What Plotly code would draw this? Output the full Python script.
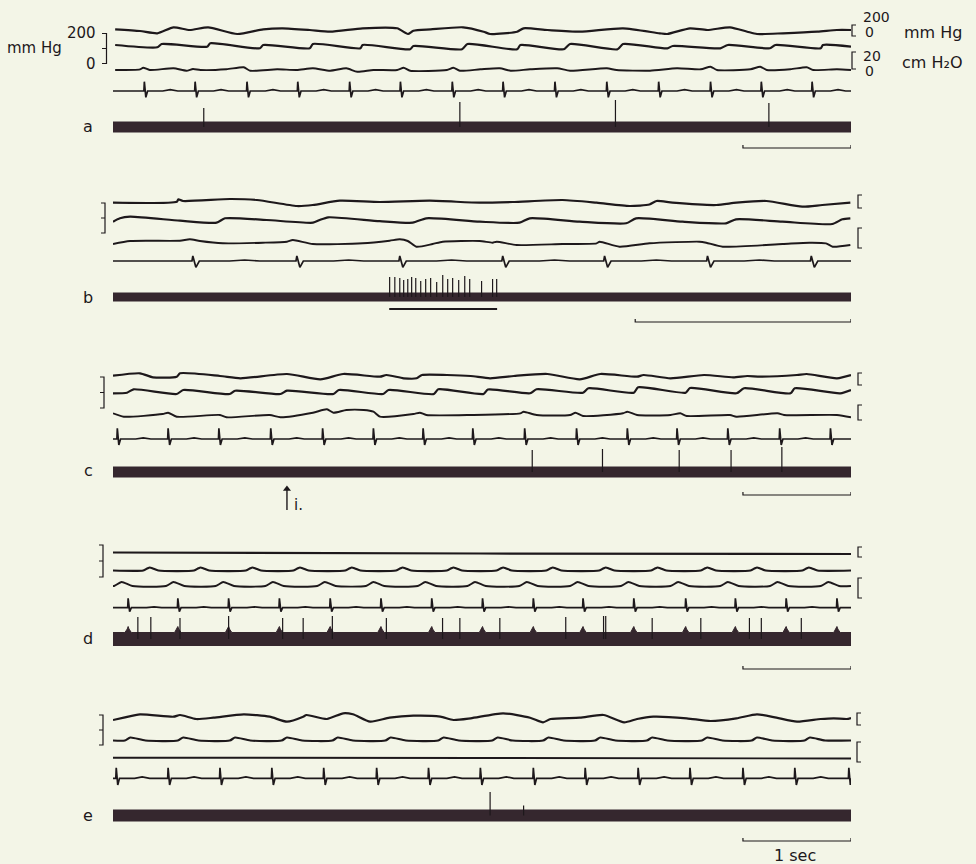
import plotly.graph_objects as go

W, H = 976, 864
T_FULL = 6.83   # seconds shown in panels a, c, d, e
T_B = 3.42      # seconds shown in panel b (double paper speed)

# ---------------- panel a ----------------
a_bp1_t = [0.02, 0.25, 0.41, 0.56, 0.71, 0.88, 1.15, 1.39, 1.57, 1.82, 2.01, 2.31, 2.63, 2.73, 2.78, 2.94,
           3.24, 3.43, 3.49, 3.74, 3.80, 4.02, 4.32, 4.72, 5.06, 5.13, 5.34, 5.50, 5.71, 5.87, 5.96, 6.20,
           6.52, 6.70, 6.83]
a_bp1_v = [0.7, -1.0, -3.3, 2.7, 0.0, 2.7, -4.0, 0.7, 1.7, 0.0, -1.7, 1.7, 1.7, -4.0, -0.7, 0.7,
           2.7, -1.7, -4.0, -1.7, 1.7, 0.0, -1.7, 1.7, -3.3, -4.0, 1.7, 0.0, 2.7, -1.7, -4.0, -3.3,
           -1.7, 0.0, 0.0]
a_bp2_t = [0.02, 0.41, 0.45, 0.87, 0.90, 1.36, 1.39, 1.82, 1.85, 2.29, 2.31, 2.75, 2.78, 3.23, 3.28,
           3.74, 3.77, 4.17, 4.23, 4.67, 4.72, 5.13, 5.18, 5.62, 5.69, 6.08, 6.13, 6.55, 6.57, 6.83]
a_bp2_v = [1.5, -0.8, 2.5, -0.2, 3.2, -1.8, 1.5, -1.8, 2.5, -1.8, 1.5, -2.8, 0.5, -2.8, 2.5,
           -2.8, 1.5, -2.8, 2.5, -2.8, 2.5, -1.8, 0.5, -1.8, 1.5, -1.8, 1.5, -1.8, 1.5, -0.2]
a_resp_t = [0.02, 0.25, 0.28, 0.34, 0.56, 0.68, 0.74, 0.81, 1.05, 1.21, 1.27, 1.52, 1.70, 1.85, 2.01,
            2.16, 2.26, 2.41, 2.63, 2.69, 2.75, 3.09, 3.15, 3.21, 3.40, 3.58, 3.68, 3.86, 4.11, 4.23,
            4.57, 4.66, 4.97, 5.22, 5.44, 5.53, 5.59, 5.90, 5.99, 6.05, 6.27, 6.42, 6.48, 6.70, 6.83]
a_resp_v = [0.0, 0.7, 2.3, 0.0, 1.7, -0.7, 1.0, 0.0, 0.7, 2.7, -0.7, 0.7, 0.0, 1.7, -0.7,
            1.7, -1.7, 0.0, 0.0, 2.3, -0.7, 0.0, 2.3, -0.7, 0.7, 1.7, -0.7, 0.7, 1.7, -0.7,
            1.7, 0.0, -0.7, 1.7, 0.7, 3.3, 0.0, 0.7, 3.3, 0.0, 0.7, 2.7, 0.0, 0.7, 0.0]
a_ecg_beats = [0.29, 0.76, 1.24, 1.71, 2.19, 2.66, 3.14, 3.61, 4.09, 4.57, 5.05, 5.53, 6.00, 6.47]
a_ecg_tmpl_v = [0, 0, 9.3, -6.3, 0, 0, 1.3, 0]
a_spike_t = [0.84, 3.21, 4.65, 6.07]
a_spike_h = [19, 25, 27, 24]

# ---------------- panel b (fast paper) ----------------
b_bp1_t = [0.0, 0.296, 0.303, 0.324, 0.542, 0.667, 0.852, 0.926, 1.051, 1.236, 1.468, 1.699, 1.852,
           2.083, 2.241, 2.394, 2.486, 2.519, 2.593, 2.796, 2.889, 3.028, 3.194, 3.287, 3.417]
b_bp1_v = [-0.7, 0.3, 2.7, 1.0, 3.0, 2.0, -4.0, -3.0, 1.3, 0.0, 1.3, -0.7, 0.0,
           2.0, -0.7, -4.0, -2.5, 1.0, -0.7, -3.0, -0.7, 1.0, -4.7, -3.0, -0.7]
b_bp2_t = [0.0, 0.032, 0.079, 0.310, 0.480, 0.519, 0.712, 0.927, 0.958, 0.997, 1.236, 1.389, 1.452,
           1.699, 1.884, 1.931, 2.162, 2.378, 2.424, 2.639, 2.841, 2.887, 3.102, 3.333, 3.380, 3.417]
b_bp2_v = [-0.2, 3.2, 4.8, 0.8, -1.2, 3.2, 1.5, -1.2, 1.5, 4.2, 0.3, -1.2, 3.2,
           -0.2, -1.2, 3.2, -0.2, -1.8, 3.2, -0.2, -1.8, 2.2, -0.2, -2.5, 2.2, 3.2]
b_resp_t = [0.0, 0.079, 0.310, 0.356, 0.403, 0.509, 0.694, 0.806, 0.833, 0.926, 1.157, 1.282, 1.329,
            1.366, 1.406, 1.481, 1.528, 1.699, 1.759, 1.778, 1.870, 2.083, 2.241, 2.255, 2.347, 2.486,
            2.718, 2.749, 2.826, 3.103, 3.227, 3.304, 3.335, 3.417]
b_resp_v = [-1.0, 2.0, 2.3, 3.7, 2.0, -0.3, 0.3, 1.3, 3.0, -1.0, -0.3, 2.3, 3.7,
            2.0, -3.7, -1.0, 1.3, 2.0, 0.3, 1.3, -2.0, -1.0, -0.3, 1.3, -3.7, -0.3,
            1.3, 0.3, -3.7, -1.0, 0.3, -0.3, -3.7, -2.0]
b_ecg_beats = [0.370, 0.852, 1.329, 1.806, 2.278, 2.755, 3.236]
b_ecg_tmpl_v = [0, 0, 5.0, -6.3, 0, 0, 1.0, 0]
b_spike_t = [1.282, 1.306, 1.329, 1.347, 1.366, 1.384, 1.403, 1.426, 1.449, 1.472,
             1.500, 1.528, 1.551, 1.574, 1.602, 1.630, 1.653, 1.708, 1.759, 1.778]
b_spike_h = [20, 20, 19, 17, 18, 20, 19, 16, 18, 19, 15, 22, 18, 19, 17, 21, 18, 16, 18, 18]
b_stim = [1.28, 1.78]

# ---------------- panel c ----------------
c_bp1_t = [0.0, 0.25, 0.37, 0.59, 0.62, 0.99, 1.18, 1.61, 1.92, 2.13, 2.47, 2.53, 2.69, 2.81, 2.86,
           3.09, 3.31, 3.49, 3.71, 4.02, 4.32, 4.51, 4.85, 4.91, 5.16, 5.47, 5.74, 5.87, 5.99, 6.33,
           6.42, 6.70, 6.83]
c_bp1_v = [0.3, 2.7, -1.3, -0.7, 2.7, 0.0, -2.3, 2.0, -3.3, 2.0, -0.7, 1.0, -2.3, -2.3, 1.0,
           1.0, 0.0, -2.3, 0.0, 2.0, -3.3, 2.0, -0.7, 1.0, -2.3, 1.0, -1.3, 0.0, -0.7, 1.0,
           2.0, -2.3, 1.0]
c_bp2_t = [0.0, 0.13, 0.19, 0.59, 0.65, 1.08, 1.13, 1.55, 1.61, 2.04, 2.09, 2.50, 2.55, 2.97, 3.01,
           3.43, 3.47, 3.86, 3.92, 4.35, 4.40, 4.82, 4.86, 5.30, 5.34, 5.77, 5.84, 6.27, 6.31, 6.73, 6.83]
c_bp2_v = [-1.3, -0.7, 2.7, -2.0, 2.0, -2.0, 1.3, -2.0, 1.3, -2.0, 2.0, -2.0, 2.0, -2.0, 2.7,
           -2.0, 2.5, -1.3, 2.7, -0.7, 3.7, -0.7, 4.7, -0.7, 4.0, -1.3, 3.7, -1.3, 3.7, -1.3, 2.0]
c_resp_t = [0.0, 0.10, 0.46, 0.51, 0.59, 0.99, 1.05, 1.45, 1.55, 1.85, 1.98, 2.04, 2.16, 2.32, 2.41,
            2.47, 2.78, 2.84, 2.90, 3.31, 3.77, 3.80, 3.92, 4.23, 4.28, 4.35, 4.72, 4.76, 4.85, 5.16,
            5.25, 5.31, 5.71, 5.77, 6.15, 6.21, 6.70, 6.83]
c_resp_v = [0.7, -2.7, 0.0, 1.3, -2.7, -1.0, -3.3, -1.0, -3.3, 1.3, 4.7, 1.3, 4.0, 4.0, 2.3,
            -2.7, 0.0, 1.3, -1.0, -1.0, 0.7, 2.3, -1.0, -1.0, 1.3, -2.0, 0.7, 2.3, -1.0, -1.0,
            0.7, -2.0, -1.0, -2.7, 0.7, -1.0, -1.0, -3.3]
c_ecg_beats = [0.04, 0.51, 0.98, 1.46, 1.94, 2.41, 2.87, 3.33, 3.81, 4.29, 4.76, 5.22, 5.69, 6.17, 6.64]
c_ecg_tmpl_v = [0, 0, 10.7, -6.0, 0, 0, 1.2, 0]
c_spike_t = [3.88, 4.53, 5.24, 5.72, 6.19]
c_spike_h = [22, 23, 22, 22, 25]
c_injection_t = 1.61

# ---------------- panel d ----------------
d_bp1_t = [0.0, 3.40, 6.83]
d_bp1_v = [0.0, -1.0, -1.5]
d_bp2_events = [0.34, 0.81, 1.29, 1.73, 2.21, 2.68, 3.15, 3.61, 4.07, 4.56, 5.04, 5.50, 5.96, 6.44]
d_bp2_tmpl_t = [-0.06, -0.02, 0.0, 0.03, 0.08]
d_bp2_tmpl_v = [0.0, 2.2, 3.0, 2.0, 0.0]
d_resp_events = [0.08, 0.56, 1.02, 1.48, 1.96, 2.41, 2.89, 3.35, 3.83, 4.30, 4.77, 5.23, 5.69, 6.15, 6.62]
d_resp_tmpl_t = [-0.07, 0.0, 0.10]
d_resp_tmpl_v = [0.0, 4.0, 0.0]
d_ecg_beats = [0.14, 0.60, 1.07, 1.54, 2.01, 2.48, 2.95, 3.42, 3.89, 4.35, 4.82, 5.30, 5.76, 6.23, 6.70]
d_ecg_tmpl_v = [0, 0, 9.4, -4.0, 0, 0, 0.8, 0]
d_spike_t = [0.23, 0.35, 0.62, 1.07, 1.57, 1.76, 2.03, 2.53, 3.05, 3.21, 3.58, 4.19, 4.54, 4.56,
             4.99, 5.44, 5.89, 6.00, 6.37]
d_spike_h = [22, 22, 21, 23, 21, 21, 23, 21, 21, 21, 21, 22, 23, 23, 21, 21, 21, 21, 21]
d_blob_tmpl_t = [-0.03, -0.008, 0.0, 0.008, 0.03]
d_blob_tmpl_v = [0.0, 3.5, 6.0, 3.5, 0.0]

# ---------------- panel e ----------------
e_bp1_t = [0.0, 0.10, 0.25, 0.56, 0.62, 0.77, 0.93, 1.21, 1.45, 1.61, 1.76, 1.79, 1.98, 2.13, 2.22,
           2.38, 2.56, 2.78, 3.03, 3.15, 3.31, 3.61, 3.86, 3.98, 4.05, 4.32, 4.54, 4.73, 4.85, 5.00,
           5.31, 5.53, 5.77, 5.96, 6.14, 6.33, 6.55, 6.67, 6.79, 6.83]
e_bp1_v = [-2.0, 0.3, 3.7, 1.3, 3.0, -1.0, 0.3, 3.7, 1.3, -3.7, 1.3, 3.0, -1.0, 4.7, 3.7,
           -3.7, 0.3, 2.3, 1.3, -2.0, -0.3, 4.7, 0.3, -4.3, -1.0, 0.3, 3.0, -4.3, -1.0, 1.3,
           -0.3, -3.0, -0.3, 3.7, 0.3, -3.7, -1.0, -0.3, -1.0, 0.0]
e_bp2_events = [0.16, 0.65, 1.13, 1.61, 2.08, 2.57, 3.06, 3.56, 4.03, 4.51, 4.99, 5.50, 5.96, 6.45]
e_bp2_tmpl_t = [-0.05, 0.0, 0.14]
e_bp2_tmpl_v = [0.0, 3.0, 0.0]
e_resp_t = [0.0, 3.40, 6.83]
e_resp_v = [0.3, 0.0, -0.5]
e_ecg_beats = [0.03, 0.51, 0.99, 1.47, 1.95, 2.44, 2.92, 3.40, 3.89, 4.37, 4.86, 5.34, 5.83, 6.31, 6.81]
e_ecg_tmpl_v = [0, 0, 10.6, -6.7, 0, 0, 1.5, 0]
e_spike_t = [3.49, 3.80]
e_spike_h = [23.5, 10]

ecg_tmpl_t = [-0.03, -0.004, 0.0, 0.014, 0.03, 0.17, 0.24, 0.31]
labels = ["a", "b", "c", "d", "e"]

# ---------------- layout (pixel lanes) ----------------
INK = "#1d181b"
BAND = "#35272e"
BG = "#f3f5e7"
FONT = "DejaVu Sans, Verdana, sans-serif"

lanes = {
    "a": dict(bp1=30, bp2=46.5, resp=70, ecg=91, nerve=127, band=10, sb=148, lab=126),
    "b": dict(bp1=202, bp2=221.5, resp=243, ecg=261, nerve=297, band=8, sb=322, lab=297),
    "c": dict(bp1=376, bp2=392, resp=414, ecg=439, nerve=472, band=10, sb=495, lab=471),
    "d": dict(bp1=552.5, bp2=570.5, resp=586, ecg=607.7, nerve=639, band=13, sb=669, lab=638),
    "e": dict(bp1=718, bp2=740.5, resp=758, ecg=778.3, nerve=815.5, band=11, sb=841, lab=815),
}
xaxis_of = {"a": "x", "b": "x2", "c": "x3", "d": "x4", "e": "x5"}
tend_of = {"a": T_FULL, "b": T_B, "c": T_FULL, "d": T_FULL, "e": T_FULL}


def compose(events, tt, tv, t_end):
    xs, ys = [0.0], [0.0]
    for ev in events:
        for a, b in zip(tt, tv):
            t = ev + a
            if 0 < t < t_end:
                xs.append(t)
                ys.append(b)
    xs.append(t_end)
    ys.append(0.0)
    return xs, ys


fig = go.Figure()


def add_line(p, xs, vs, lane, width=2.0, shape="spline", color=INK):
    base = lanes[p][lane]
    fig.add_trace(go.Scatter(
        x=xs, y=[-base + v for v in vs], mode="lines", xaxis=xaxis_of[p], yaxis="y",
        line=dict(color=color, width=width, shape=shape, smoothing=0.6 if shape == "spline" else None),
        hoverinfo="skip", showlegend=False))


def add_band(p, xs, vs):
    base, half = lanes[p]["nerve"], lanes[p]["band"] / 2
    te = tend_of[p]
    px = list(xs) + [te, 0.0]
    py = [-base + half + v for v in vs] + [-base - half, -base - half]
    fig.add_trace(go.Scatter(x=px, y=py, mode="lines", fill="toself", fillcolor=BAND,
                             xaxis=xaxis_of[p], yaxis="y", line=dict(color=BAND, width=1),
                             hoverinfo="skip", showlegend=False))


def add_spikes(p, ts, hs, width=1.2):
    base = lanes[p]["nerve"]
    xs, ys = [], []
    for t, h in zip(ts, hs):
        xs += [t, t, None]
        ys += [-base, -base + h, None]
    fig.add_trace(go.Scatter(x=xs, y=ys, mode="lines", xaxis=xaxis_of[p], yaxis="y",
                             line=dict(color=INK, width=width), hoverinfo="skip", showlegend=False))


data = {
    "a": dict(bp1=(a_bp1_t, a_bp1_v), bp2=(a_bp2_t, a_bp2_v), resp=(a_resp_t, a_resp_v),
              ecg=(a_ecg_beats, a_ecg_tmpl_v), spikes=(a_spike_t, a_spike_h)),
    "b": dict(bp1=(b_bp1_t, b_bp1_v), bp2=(b_bp2_t, b_bp2_v), resp=(b_resp_t, b_resp_v),
              ecg=(b_ecg_beats, b_ecg_tmpl_v), spikes=(b_spike_t, b_spike_h)),
    "c": dict(bp1=(c_bp1_t, c_bp1_v), bp2=(c_bp2_t, c_bp2_v), resp=(c_resp_t, c_resp_v),
              ecg=(c_ecg_beats, c_ecg_tmpl_v), spikes=(c_spike_t, c_spike_h)),
    "d": dict(bp1=(d_bp1_t, d_bp1_v),
              bp2=compose(d_bp2_events, d_bp2_tmpl_t, d_bp2_tmpl_v, T_FULL),
              resp=compose(d_resp_events, d_resp_tmpl_t, d_resp_tmpl_v, T_FULL),
              ecg=(d_ecg_beats, d_ecg_tmpl_v), spikes=(d_spike_t, d_spike_h)),
    "e": dict(bp1=(e_bp1_t, e_bp1_v),
              bp2=compose(e_bp2_events, e_bp2_tmpl_t, e_bp2_tmpl_v, T_FULL),
              resp=(e_resp_t, e_resp_v),
              ecg=(e_ecg_beats, e_ecg_tmpl_v), spikes=(e_spike_t, e_spike_h)),
}

for p in labels:
    d = data[p]
    te = tend_of[p]
    # nerve activity band (d carries cardiac-locked blobs on its upper edge)
    if p == "d":
        add_band(p, *compose(d_ecg_beats, d_blob_tmpl_t, d_blob_tmpl_v, te))
    else:
        add_band(p, [0.0, te], [0.0, 0.0])
    add_spikes(p, *d["spikes"])
    add_line(p, *d["bp1"], "bp1", width=2.2)
    add_line(p, *d["bp2"], "bp2", width=2.2)
    add_line(p, *d["resp"], "resp", width=1.9)
    ex, ev = compose(d["ecg"][0], ecg_tmpl_t, d["ecg"][1], te)
    add_line(p, ex, ev, "ecg", width=1.7, shape="linear")
    # 1 s time-scale bar (ends at the end of the record)
    sb = lanes[p]["sb"]
    fig.add_trace(go.Scatter(x=[te - 1.0, te - 1.0, te, te], y=[-sb + 3, -sb, -sb, -sb + 3],
                             mode="lines", xaxis=xaxis_of[p], yaxis="y",
                             line=dict(color=INK, width=1.2), hoverinfo="skip", showlegend=False))

# stimulation period bar in b
fig.add_trace(go.Scatter(x=b_stim, y=[-309, -309], mode="lines", xaxis="x2", yaxis="y",
                         line=dict(color=INK, width=1.8), hoverinfo="skip", showlegend=False))
# injection arrow in c
fig.add_trace(go.Scatter(x=[c_injection_t, c_injection_t], y=[-510, -490], mode="lines",
                         xaxis="x3", yaxis="y", line=dict(color=INK, width=1.4),
                         hoverinfo="skip", showlegend=False))
fig.add_trace(go.Scatter(x=[c_injection_t], y=[-489], mode="markers", xaxis="x3", yaxis="y",
                         marker=dict(symbol="triangle-up", size=7, color=INK),
                         hoverinfo="skip", showlegend=False))


def X(px):
    return px / W


def Y(px):
    return 1 - px / H


shapes = []
# left calibration brackets (mirrored E)
left_br = {"a": (102, 106.5, 33.5, 63.5), "b": (101, 105, 203, 233), "c": (100, 104, 377, 408),
           "d": (99, 103, 545, 577), "e": (99, 103, 715, 745)}
for p, (x0, x1, y0, y1) in left_br.items():
    ym = (y0 + y1) / 2
    path = (f"M {X(x0)},{Y(y0)} L {X(x1)},{Y(y0)} L {X(x1)},{Y(y1)} L {X(x0)},{Y(y1)} "
            f"M {X(x0)},{Y(ym)} L {X(x1)},{Y(ym)}")
    shapes.append(dict(type="path", path=path, xref="paper", yref="paper",
                       line=dict(color=INK, width=1.2)))
# right calibration brackets "["
right_br = {"a": (852, [(25, 36), (52, 69)]), "b": (858, [(195, 208), (228, 248)]),
            "c": (858, [(373, 385), (405, 420)]), "d": (858, [(547, 557), (578, 598)]),
            "e": (857, [(713, 725), (742, 762)])}
for p, (xv, pairs) in right_br.items():
    for (y0, y1) in pairs:
        path = f"M {X(xv + 4)},{Y(y0)} L {X(xv)},{Y(y0)} L {X(xv)},{Y(y1)} L {X(xv + 4)},{Y(y1)}"
        shapes.append(dict(type="path", path=path, xref="paper", yref="paper",
                           line=dict(color=INK, width=1.2)))

ann = []


def txt(s, x, y, size=15, xanchor="left"):
    ann.append(dict(text=s, x=X(x), y=Y(y), xref="paper", yref="paper", showarrow=False,
                    xanchor=xanchor, yanchor="middle", font=dict(family=FONT, size=size, color=INK)))


txt("mm Hg", 64, 48, 15, "right")
txt("200", 98, 33, 15, "right")
txt("0", 98, 64, 15, "right")
txt("200", 861, 17, 14)
txt("0", 863, 32, 14)
txt("mm Hg", 902, 33, 16)
txt("20", 861, 56, 14)
txt("0", 863, 71, 14)
txt("cm H₂O", 900, 62, 16)
for p in labels:
    txt(p, 88, lanes[p]["lab"], 16, "center")
txt("1 sec", 795, 855, 16, "center")
txt("i.", 292, 505, 15)

dom = [113 / W, 851 / W]
axis_common = dict(domain=dom, visible=False, fixedrange=True, anchor="y")
fig.update_layout(
    width=W, height=H, margin=dict(l=0, r=0, t=0, b=0),
    paper_bgcolor=BG, plot_bgcolor=BG,
    xaxis=dict(range=[0, T_FULL], **axis_common),
    xaxis2=dict(range=[0, T_B], overlaying="x", **axis_common),
    xaxis3=dict(range=[0, T_FULL], overlaying="x", **axis_common),
    xaxis4=dict(range=[0, T_FULL], overlaying="x", **axis_common),
    xaxis5=dict(range=[0, T_FULL], overlaying="x", **axis_common),
    yaxis=dict(range=[-H, 0], domain=[0, 1], visible=False, fixedrange=True),
    shapes=shapes, annotations=ann, showlegend=False,
)

fig.write_html("out.html", config={"displayModeBar": False},
               post_script="document.body.style.margin='0px';"
                           "document.body.style.background='" + BG + "';")
